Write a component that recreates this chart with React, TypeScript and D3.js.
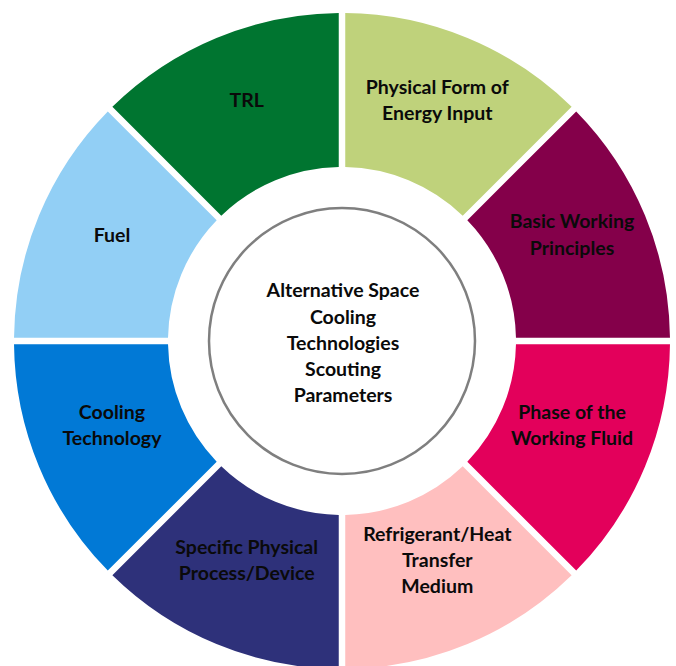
import React from "react";
import * as d3 from "d3";

const categories: string[][] = [
  ["Physical Form of", "Energy Input"],
  ["Basic Working", "Principles"],
  ["Phase of the", "Working Fluid"],
  ["Refrigerant/Heat", "Transfer", "Medium"],
  ["Specific Physical", "Process/Device"],
  ["Cooling", "Technology"],
  ["Fuel"],
  ["TRL"],
];
const values: number[] = [1, 1, 1, 1, 1, 1, 1, 1];
const colors: string[] = [
  "#bfd27b",
  "#84004a",
  "#e3005b",
  "#ffbfbf",
  "#2e317a",
  "#0179d6",
  "#92cff5",
  "#007530",
];
const centerLines: string[] = [
  "Alternative Space",
  "Cooling",
  "Technologies",
  "Scouting",
  "Parameters",
];

const W = 676;
const H = 666;
const cx = 342;
const cy = 341;
const outerR = 328;
const innerR = 174;
const circleR = 133;
const gap = 6.5;
const padR = 200;
const labelR = 249;
const labelDy = -11;
const lineH = 26.3;
const fontSize = 19.5;
const font = "Lato, 'Open Sans', sans-serif";

export default function App() {
  const pie = d3
    .pie<number>()
    .sort(null)
    .value((d) => d)
    .startAngle(0)
    .endAngle(2 * Math.PI)
    .padAngle(gap / padR);
  const arcs = pie(values);
  const arc = d3
    .arc<d3.PieArcDatum<number>>()
    .innerRadius(innerR)
    .outerRadius(outerR)
    .padRadius(padR);
  const labelArc = d3
    .arc<d3.PieArcDatum<number>>()
    .innerRadius(labelR)
    .outerRadius(labelR);

  return (
    <svg
      width={W}
      height={H}
      style={{ position: "absolute", left: 0, top: 0, background: "#fff" }}
    >
      <g transform={`translate(${cx},${cy})`}>
        {arcs.map((a, i) => (
          <path key={i} d={arc(a) || ""} fill={colors[i]} />
        ))}
        {arcs.map((a, i) => {
          const [lx, ly] = labelArc.centroid(a);
          const lines = categories[i];
          const y0 = ly + labelDy - ((lines.length - 1) * lineH) / 2;
          return (
            <text
              key={"t" + i}
              x={lx}
              textAnchor="middle"
              fontFamily={font}
              fontWeight={700}
              fontSize={fontSize}
              fill="#0a0a0a"
            >
              {lines.map((l, j) => (
                <tspan key={j} x={lx} y={y0 + j * lineH} dy="0.35em">
                  {l}
                </tspan>
              ))}
            </text>
          );
        })}
        <circle r={circleR} fill="#fff" stroke="#7f7f7f" strokeWidth={2.5} />
        <text
          textAnchor="middle"
          fontFamily={font}
          fontWeight={700}
          fontSize={fontSize}
          fill="#0a0a0a"
        >
          {centerLines.map((l, j) => (
            <tspan
              key={j}
              x={1}
              y={2 + (j - (centerLines.length - 1) / 2) * lineH}
              dy="0.35em"
            >
              {l}
            </tspan>
          ))}
        </text>
      </g>
    </svg>
  );
}
